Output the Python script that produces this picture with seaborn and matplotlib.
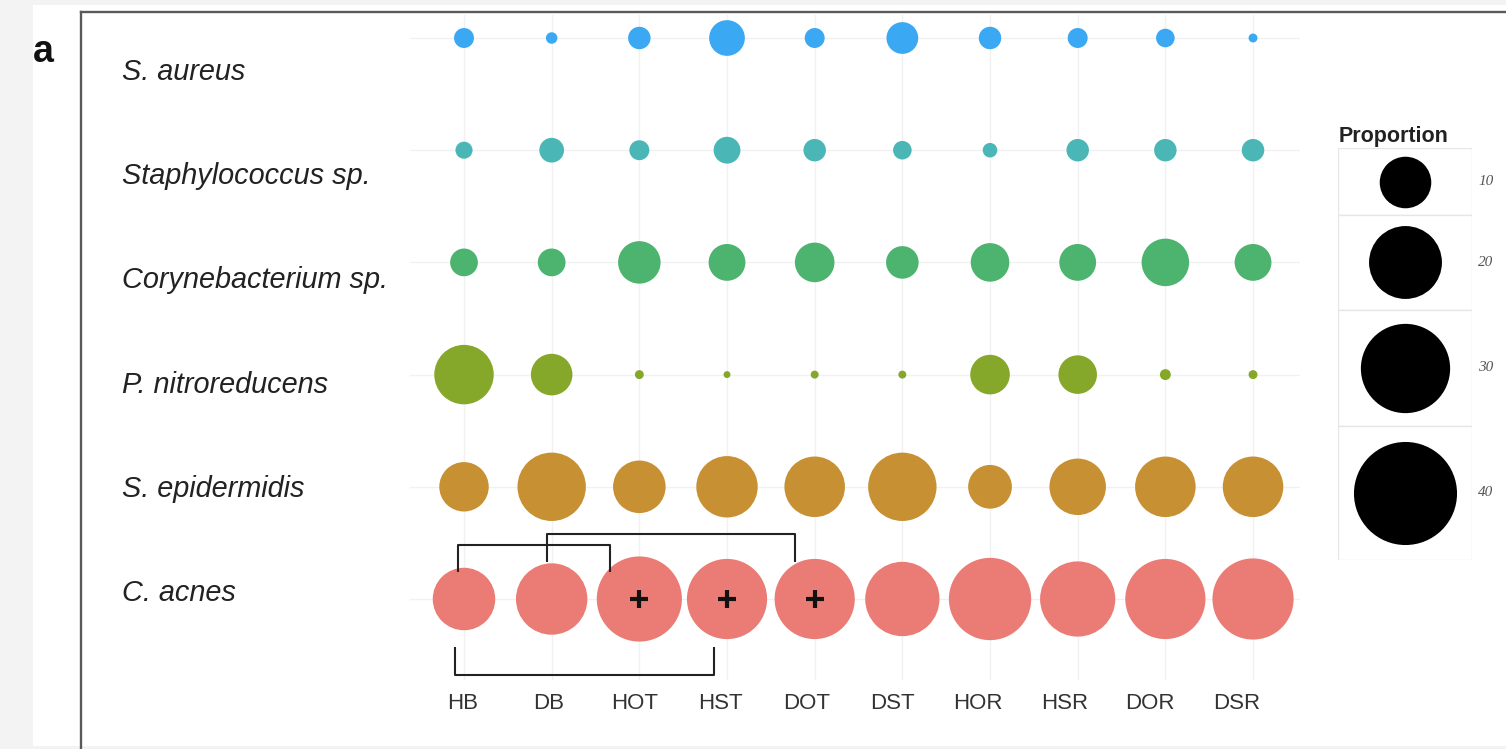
import numpy as np
import pandas as pd
import matplotlib
matplotlib.use("Agg")
import matplotlib.pyplot as plt
import matplotlib.transforms as mtransforms
from matplotlib.patches import Rectangle
from matplotlib.lines import Line2D
import seaborn as sns

# ---------------- data ----------------
samples = ["HB", "DB", "HOT", "HST", "DOT", "DST", "HOR", "HSR", "DOR", "DSR"]
species = ["S. aureus", "Staphylococcus sp.", "Corynebacterium sp.",
           "P. nitroreducens", "S. epidermidis", "C. acnes"]
s_aureus = [1.5, 0.5, 1.9, 4.8, 1.5, 3.8, 1.9, 1.5, 1.3, 0.3]
staph_sp = [1.1, 2.3, 1.5, 2.7, 1.9, 1.3, 0.8, 1.9, 1.9, 1.9]
coryne   = [2.9, 2.9, 6.8, 5.1, 5.9, 4.0, 5.6, 5.1, 8.5, 5.1]
p_nitro  = [13.3, 6.5, 0.3, 0.18, 0.24, 0.24, 5.9, 5.6, 0.45, 0.3]
s_epi    = [9.2, 17.6, 10.4, 14.2, 13.8, 17.6, 7.2, 12.0, 13.8, 13.8]
c_acnes  = [14.7, 19.2, 27.3, 24.2, 24.2, 20.8, 25.5, 21.3, 24.2, 24.8]
legend_values = [10, 20, 30, 40]
legend_title = "Proportion"
plus_samples = ["HOT", "HST", "DOT"]          # '+' marks on C. acnes
upper_brackets = [("HB", "HOT"), ("DB", "DOT")]
lower_brackets = [("HB", "HST")]
panel_letter = "a"

colors = ["#3BA8F3", "#4AB7B6", "#4DB46F", "#85A82B", "#C79133", "#EB7C75"]

values = [s_aureus, staph_sp, coryne, p_nitro, s_epi, c_acnes]
rows = []
for r, (sp, vals) in enumerate(zip(species, values)):
    for c, (smp, v) in enumerate(zip(samples, vals)):
        rows.append({"species": sp, "sample": smp, "row": r, "col": c, "value": v})
df = pd.DataFrame(rows)

# ---------------- figure ----------------
W, H = 1506, 749
fig = plt.figure(figsize=(W / 100, H / 100), dpi=100, facecolor="#f3f3f3")

def fx(px):
    return px / W

def fy(py):
    return 1 - py / H

# white page
fig.patches.append(Rectangle((fx(33), fy(746)), 1 - fx(33), fy(5) - fy(746),
                             transform=fig.transFigure, facecolor="white",
                             edgecolor="none", zorder=-10))
# panel frame (left + top)
fig.add_artist(Line2D([fx(81), fx(81)], [0, fy(12)], transform=fig.transFigure,
                      color="#5a5a5a", lw=1.7))
fig.add_artist(Line2D([fx(81), 1], [fy(12), fy(12)], transform=fig.transFigure,
                      color="#5a5a5a", lw=1.7))
fig.text(fx(33), fy(62), panel_letter, fontsize=27, fontweight="bold",
         family="Liberation Sans", color="#111", va="baseline", ha="left")

# main axes
ax = fig.add_axes([fx(410), fy(680), fx(1300) - fx(410), fy(15) - fy(680)])
ax.set_facecolor("none")
col_px, col_step = 464, 87.67
row_px, row_step = 38, 112.2
ax.set_xlim((410 - col_px) / col_step, (1300 - col_px) / col_step)
ax.set_ylim((680 - row_px) / row_step, (15 - row_px) / row_step)

for c in range(len(samples)):
    ax.axvline(c, color="#f1f1f1", lw=1.0, zorder=0)
for r in range(len(species)):
    ax.axhline(r, color="#f1f1f1", lw=1.0, zorder=0)

k_area = 137.7  # points^2 per unit of proportion
sns.scatterplot(data=df, x="col", y="row", hue="species", palette=colors,
                hue_order=species, size="value", sizes=(0, k_area * 40),
                size_norm=(0, 40), legend=False, linewidth=0, alpha=1,
                clip_on=False, ax=ax, zorder=3)

# '+' markers
cr = species.index("C. acnes")
ax.scatter([samples.index(s) for s in plus_samples], [cr] * len(plus_samples),
           marker="+", s=150, linewidths=3.0, color="#111", zorder=5, clip_on=False)

# brackets
bk = dict(color="#222", lw=1.5, clip_on=False, zorder=6, solid_capstyle="butt")
upper_geom = [(-0.07, -0.34, 4.52, 4.76), (-0.05, -0.23, 4.42, 4.67)]
for (a, b), (oa, ob, ytop, yend) in zip(upper_brackets, upper_geom):
    xa, xb = samples.index(a) + oa, samples.index(b) + ob
    ax.plot([xa, xa, xb, xb], [yend, ytop, ytop, yend], **bk)
lower_geom = [(-0.10, -0.15, 5.68, 5.43)]
for (a, b), (oa, ob, ybot, yend) in zip(lower_brackets, lower_geom):
    xa, xb = samples.index(a) + oa, samples.index(b) + ob
    ax.plot([xa, xa, xb, xb], [yend, ybot, ybot, yend], **bk)

# ticks
ax.set_xticks(np.arange(len(samples)) * 0.981 - 0.02)
ax.set_xticklabels(samples, fontsize=16, family="Liberation Sans", color="#333")
ax.tick_params(axis="x", length=0, pad=9.5)
ax.set_yticks([])
ax.set_xlabel("")
ax.set_ylabel("")
for s in ax.spines.values():
    s.set_visible(False)

# species labels
tr = mtransforms.blended_transform_factory(fig.transFigure, ax.transData)
for r, sp in enumerate(species):
    ax.text(fx(122), 0.374 + 0.9287 * r, sp, transform=tr, fontsize=20.8,
            style="italic", family="Liberation Sans", color="#222",
            va="baseline", ha="left")

# ---------------- size legend ----------------
diam = [16.3 * np.sqrt(v) for v in legend_values]
heights = [1.3 * d for d in diam]
tot = sum(heights)
lx0, lx1, ly0 = 1338, 1472, 148
lax = fig.add_axes([fx(lx0), fy(ly0 + tot), fx(lx1) - fx(lx0), fy(ly0) - fy(ly0 + tot)])
lax.set_xlim(0, lx1 - lx0)
lax.set_ylim(tot, 0)
lax.axis("off")
y = 0
for v, h in zip(legend_values, heights):
    lax.add_patch(Rectangle((0, y), lx1 - lx0, h, facecolor="white",
                            edgecolor="#e6e6e6", lw=1.0))
    lax.scatter([(lx1 - lx0) / 2], [y + h / 2], s=k_area * v, color="black",
                linewidths=0, zorder=3)
    lax.text(lx1 - lx0 + 6, y + h / 2, str(v), fontsize=11, style="italic",
             family="Liberation Serif", color="#555", va="center", ha="left",
             clip_on=False)
    y += h
lax.text(1, -6, legend_title, fontsize=15.5, fontweight="bold",
         family="Liberation Sans", color="#222", va="baseline", ha="left")

fig.savefig("out.png", dpi=100, facecolor=fig.get_facecolor())
